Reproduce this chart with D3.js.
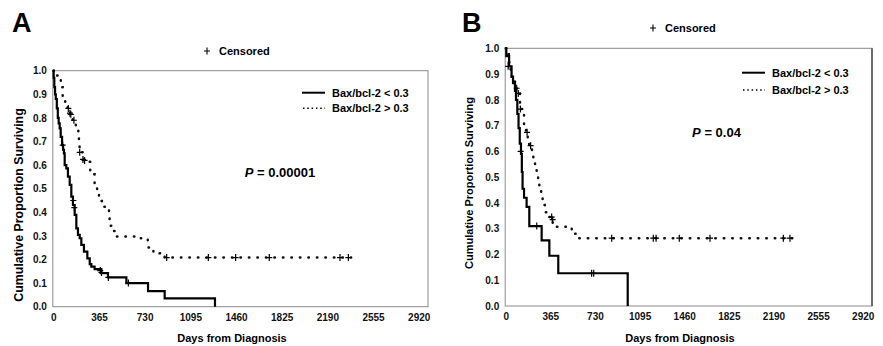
<!DOCTYPE html>
<html><head><meta charset="utf-8">
<script src="https://cdn.jsdelivr.net/npm/d3@7"></script>
<style>body{margin:0;background:#fff}svg{display:block;font-family:"Liberation Sans",Arial,sans-serif;font-weight:bold}</style>
</head><body><svg id="c" width="883" height="346"></svg>
<script>
// ---- data ----
const xTicks = [0, 365, 730, 1095, 1460, 1825, 2190, 2555, 2920];
const yTicks = [0, 0.1, 0.2, 0.3, 0.4, 0.5, 0.6, 0.7, 0.8, 0.9, 1.0];
const seriesNames = ["Bax/bcl-2 < 0.3", "Bax/bcl-2 > 0.3"];
const pValues = ["0.00001", "0.04"];

// Panel A, low ratio (solid): [day, survival]
const aLow = [[0,1.0],[3,0.97],[8,0.93],[14,0.90],[20,0.88],[28,0.84],[36,0.80],[43,0.777],[51,0.756],[59,0.72],[70,0.685],[78,0.665],[85,0.65],[91,0.60],[104,0.586],[117,0.551],[131,0.516],[144,0.466],[157,0.431],[171,0.389],[184,0.332],[197,0.304],[211,0.29],[224,0.262],[245,0.233],[272,0.205],[291,0.18],[304,0.17],[330,0.159],[384,0.142],[437,0.124],[584,0.10],[757,0.066],[890,0.035],[1292,0]];
const aLowCens = [[75,0.685],[160,0.45],[168,0.42],[375,0.153],[385,0.145],[440,0.124],[600,0.10]];
// Panel A, high ratio (dotted)
const aHigh = [[0,1.0],[30,0.98],[60,0.93],[75,0.89],[95,0.86],[115,0.84],[135,0.815],[155,0.79],[180,0.756],[200,0.727],[205,0.692],[210,0.654],[235,0.624],[258,0.614],[295,0.561],[330,0.509],[350,0.48],[365,0.448],[388,0.424],[437,0.414],[445,0.379],[450,0.343],[468,0.321],[500,0.297],[690,0.29],[755,0.251],[800,0.23],[850,0.226],[890,0.208],[2380,0.208]];
const aHighCens = [[120,0.84],[133,0.82],[140,0.815],[165,0.79],[211,0.654],[237,0.624],[250,0.62],[906,0.208],[1239,0.208],[1457,0.208],[1726,0.208],[2291,0.208],[2358,0.208]];
// Panel B, low ratio (solid)
const bLow = [[0,1.0],[5,0.97],[28,0.93],[48,0.89],[60,0.865],[76,0.835],[84,0.80],[95,0.745],[105,0.69],[115,0.63],[125,0.59],[132,0.52],[138,0.455],[150,0.42],[171,0.385],[193,0.31],[294,0.255],[357,0.195],[430,0.127],[998,0]];
const bLowCens = [[20,0.93],[122,0.60],[254,0.31],[703,0.127],[720,0.127]];
// Panel B, high ratio (dotted)
const bHigh = [[0,1.0],[8,0.977],[25,0.946],[40,0.914],[49,0.88],[76,0.861],[90,0.84],[103,0.825],[117,0.79],[130,0.764],[139,0.745],[150,0.706],[166,0.674],[180,0.629],[204,0.622],[215,0.59],[226,0.557],[240,0.532],[253,0.506],[265,0.48],[275,0.448],[290,0.422],[302,0.392],[320,0.364],[349,0.345],[384,0.308],[540,0.28],[594,0.263],[2345,0.263]];
const bHighCens = [[90,0.845],[103,0.825],[120,0.764],[175,0.674],[204,0.622],[376,0.345],[384,0.335],[867,0.263],[1207,0.263],[1230,0.263],[1420,0.263],[1671,0.263],[2271,0.263],[2325,0.263]];

// ---- layout ----
const panels = [
  {label:"A", lx:12, ly:32, x0:53.3, x1:418.7, right:428, yTop:70.7, yBot:306.7,
   low:aLow, lowC:aLowCens, high:aHigh, highC:aHighCens, p:pValues[0],
   pX:280, pY:176.5, yLabX:23, yLabSize:12.4, yLabY:205,
   censX:207, censY:51, legX:302, legY1:92.7, legY2:108.3, xLabX:232, darkRight:false},
  {label:"B", lx:462, ly:32, x0:505.7, x1:862.7, right:872, yTop:48.3, yBot:306,
   low:bLow, lowC:bLowCens, high:bHigh, highC:bHighCens, p:pValues[1],
   pX:716.5, pY:137, yLabX:473, yLabSize:11, yLabY:183,
   censX:653, censY:28, legX:742, legY1:72.7, legY2:90, xLabX:680, darkRight:true}
];

const svg = d3.select("#c");
const cross = "M-3,0H3M0,-3.5V3.5";

panels.forEach(P => {
  const g = svg.append("g");
  const x = d3.scaleLinear().domain([0, 2920]).range([P.x0, P.x1]);
  const y = d3.scaleLinear().domain([0, 1]).range([P.yBot, P.yTop]);

  // frame
  g.append("rect").attr("x", P.x0 - 0.5).attr("y", P.yTop).attr("width", P.right - P.x0 + 0.5)
    .attr("height", P.yBot - P.yTop).attr("fill", "none").attr("stroke", "#8a8a8a").attr("stroke-width", 1);
  if (P.darkRight) g.append("line").attr("x1", P.right).attr("x2", P.right).attr("y1", P.yTop).attr("y2", P.yBot)
    .attr("stroke", "#333").attr("stroke-width", 1.2);

  // axes
  const ya = d3.axisLeft(y).tickValues(yTicks).tickFormat(d3.format(".1f")).tickSize(0).tickPadding(6);
  const yg = g.append("g").attr("transform", `translate(${P.x0 - 0.5},0)`).call(ya);
  yg.select(".domain").remove();
  yg.selectAll("text").attr("font-size", 10).attr("font-family", "Liberation Sans").attr("font-weight", "bold").attr("fill", "#111");
  const xa = d3.axisBottom(x).tickValues(xTicks).tickFormat(d3.format("d")).tickSize(0).tickPadding(7);
  const xg = g.append("g").attr("transform", `translate(0,${P.yBot})`).call(xa);
  xg.select(".domain").remove();
  xg.selectAll("text").attr("font-size", 10).attr("font-family", "Liberation Sans").attr("font-weight", "bold").attr("fill", "#111");

  // curves
  const line = d3.line().x(d => x(d[0])).y(d => y(d[1])).curve(d3.curveStepAfter);
  g.append("path").datum(P.high).attr("d", line).attr("fill", "none").attr("stroke", "#111")
    .attr("stroke-width", 2.5).attr("stroke-dasharray", "0.5 8").attr("stroke-linecap", "round");
  g.append("path").datum(P.low).attr("d", line).attr("fill", "none").attr("stroke", "#000")
    .attr("stroke-width", 2.2);

  // censor marks
  g.selectAll(".ch").data(P.highC.concat(P.lowC)).join("path")
    .attr("d", cross).attr("transform", d => `translate(${x(d[0])},${y(d[1])})`)
    .attr("stroke", "#000").attr("stroke-width", 1.2).attr("fill", "none");

  // panel letter
  g.append("text").attr("x", P.lx).attr("y", P.ly).attr("font-size", 27).attr("font-family", "Liberation Sans")
    .attr("font-weight", "bold").text(P.label);

  // censored key
  g.append("path").attr("d", cross).attr("transform", `translate(${P.censX},${P.censY})`)
    .attr("stroke", "#000").attr("stroke-width", 1.1);
  g.append("text").attr("x", P.censX + 12).attr("y", P.censY + 4).attr("font-size", 11).text("Censored");

  // legend
  g.append("line").attr("x1", P.legX).attr("x2", P.legX + 23).attr("y1", P.legY1).attr("y2", P.legY1)
    .attr("stroke", "#000").attr("stroke-width", 2);
  g.append("line").attr("x1", P.legX + 1).attr("x2", P.legX + 23).attr("y1", P.legY2).attr("y2", P.legY2)
    .attr("stroke", "#000").attr("stroke-width", 1.6).attr("stroke-dasharray", "1.5 2.8");
  g.append("text").attr("x", P.legX + 30).attr("y", P.legY1 + 4).attr("font-size", 11).text(seriesNames[0]);
  g.append("text").attr("x", P.legX + 30).attr("y", P.legY2 + 4).attr("font-size", 11).text(seriesNames[1]);

  // p value
  const pt = g.append("text").attr("x", P.pX).attr("y", P.pY).attr("font-size", 13).attr("text-anchor", "middle");
  pt.append("tspan").attr("font-style", "italic").text("P");
  pt.append("tspan").text(" = " + P.p);

  // axis titles
  g.append("text").attr("x", P.xLabX).attr("y", 342).attr("font-size", 11).attr("text-anchor", "middle").text("Days from Diagnosis");
  g.append("text").attr("transform", `translate(${P.yLabX},${P.yLabY}) rotate(-90)`).attr("font-size", P.yLabSize)
    .attr("text-anchor", "middle").text("Cumulative Proportion Surviving");
});
</script></body></html>
